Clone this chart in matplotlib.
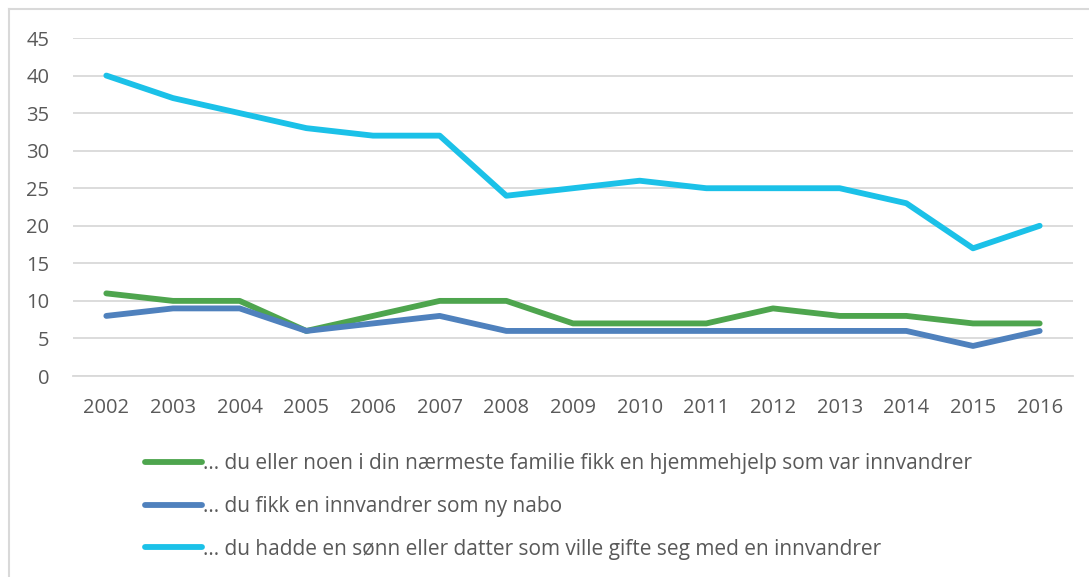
import matplotlib.pyplot as plt
from matplotlib.lines import Line2D

years = [str(y) for y in range(2002, 2017)]
hjemmehjelp = [11, 10, 10, 6, 8, 10, 10, 7, 7, 7, 9, 8, 8, 7, 7]
nabo = [8, 9, 9, 6, 7, 8, 6, 6, 6, 6, 6, 6, 6, 4, 6]
svigerbarn = [40, 37, 35, 33, 32, 32, 24, 25, 26, 25, 25, 25, 23, 17, 20]

labels = [
    "\u2026 du eller noen i din nærmeste familie fikk en hjemmehjelp som var innvandrer",
    "\u2026 du fikk en innvandrer som ny nabo",
    "\u2026 du hadde en sønn eller datter som ville gifte seg med en innvandrer",
]
colors = ["#4EA54E", "#4F81BD", "#1BC1E8"]

plt.rcParams['font.family'] = ['Open Sans', 'DejaVu Sans']
txt = "#595959"

fig = plt.figure(figsize=(10.89, 5.77), dpi=100)
W, H = 1089, 577
ax = fig.add_axes([73 / W, 1 - 376 / H, 1000 / W, (376 - 38) / H])

x = range(len(years))
for vals, c, lab in zip([hjemmehjelp, nabo, svigerbarn], colors, labels):
    ax.plot(x, vals, color=c, lw=4.2, solid_capstyle='round', solid_joinstyle='round', label=lab)

ax.set_xlim(-0.5, len(years) - 0.5)
ax.set_ylim(0, 45)
ax.set_yticks(range(0, 50, 5))
ax.set_xticks(list(x))
ax.set_xticklabels(years)
ax.grid(axis='y', color='#D9D9D9', lw=1.3)
ax.set_axisbelow(True)
for s in ax.spines.values():
    s.set_visible(False)
ax.spines['bottom'].set_visible(True)
ax.spines['bottom'].set_color('#D9D9D9')
ax.spines['bottom'].set_linewidth(1.3)
ax.tick_params(length=0, labelsize=14.5, labelcolor=txt)
ax.tick_params(axis='x', pad=16)
ax.tick_params(axis='y', pad=17)

# legend
leg = fig.legend(loc='upper left', bbox_to_anchor=(145 / W, 1 - 453 / H), frameon=False,
                 fontsize=15, labelcolor=txt, handlelength=2.75, handletextpad=0.05,
                 labelspacing=1.05, borderpad=0, borderaxespad=0)

# outer frame (cropped chart area)
fig.add_artist(Line2D([9 / W, 1], [1 - 9 / H, 1 - 9 / H], color='#D9D9D9', lw=1.5, transform=fig.transFigure))
fig.add_artist(Line2D([9 / W, 9 / W], [0, 1 - 9 / H], color='#D9D9D9', lw=1.5, transform=fig.transFigure))

fig.savefig('out.png', dpi=100)
